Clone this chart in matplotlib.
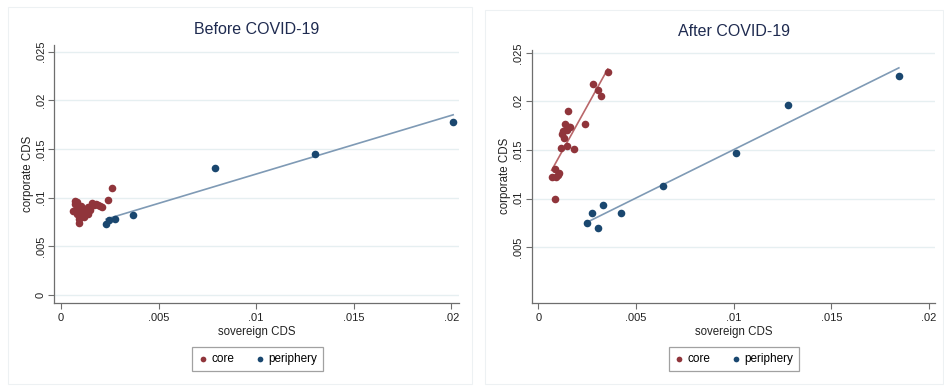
import numpy as np
import matplotlib
matplotlib.use("Agg")
import matplotlib.pyplot as plt
from matplotlib.patches import Rectangle

plt.rcParams['font.family'] = ['Liberation Sans', 'DejaVu Sans']

# Before COVID-19
before_core_x = [0.0006, 0.0007, 0.0007, 0.0008, 0.0008, 0.0008, 0.0009, 0.0009, 0.0009,
                 0.0010, 0.0010, 0.0011, 0.0012, 0.0012, 0.0013, 0.0014, 0.0014, 0.0015,
                 0.0016, 0.0017, 0.0018, 0.0019, 0.0020, 0.0021, 0.0024, 0.0026]
before_core_y = [0.0086, 0.0093, 0.0097, 0.0090, 0.0083, 0.0095, 0.0078, 0.0074, 0.0087,
                 0.0082, 0.0091, 0.0085, 0.0080, 0.0088, 0.0086, 0.0090, 0.0083, 0.0087,
                 0.0094, 0.0092, 0.0093, 0.0092, 0.0091, 0.0090, 0.0098, 0.0110]
before_peri_x = [0.0201, 0.0130, 0.0079, 0.0037, 0.00277, 0.00248, 0.00231]
before_peri_y = [0.0178, 0.0145, 0.0130, 0.0082, 0.0078, 0.0077, 0.00726]

# After COVID-19
after_core_x = [0.00355, 0.0028, 0.00305, 0.00322, 0.00152, 0.00239, 0.00136, 0.00157,
                0.00128, 0.00121, 0.00133, 0.00145, 0.00114, 0.00181, 0.00084, 0.00068,
                0.0009, 0.00107, 0.00099, 0.00087, 0.00162, 0.00145]
after_core_y = [0.0230, 0.02184, 0.0212, 0.02057, 0.01906, 0.01768, 0.0177, 0.01733,
                0.01692, 0.01668, 0.01624, 0.01538, 0.01521, 0.01514, 0.01304, 0.01222,
                0.01222, 0.01263, 0.01246, 0.00998, 0.0174, 0.0171]
after_peri_x = [0.01845, 0.0128, 0.0101, 0.00636, 0.00425, 0.00329, 0.00275, 0.00251, 0.00305]
after_peri_y = [0.02263, 0.0196, 0.0147, 0.0113, 0.00857, 0.0093, 0.0085, 0.00754, 0.00696]

x_ticks = [0, 0.005, 0.01, 0.015, 0.02]
x_labels = ['0', '.005', '.01', '.015', '.02']
y_ticks_before = [0, 0.005, 0.01, 0.015, 0.02, 0.025]
y_labels_before = ['0', '.005', '.01', '.015', '.02', '.025']
y_ticks_after = [0.005, 0.01, 0.015, 0.02, 0.025]
y_labels_after = ['.005', '.01', '.015', '.02', '.025']

core_col = '#90353b'
peri_col = '#1a476f'
core_fit_col = '#b9676a'
peri_fit_col = '#7f9ab5'
grid_col = '#e6eff1'
axis_col = '#6e6e6e'
title_col = '#1f2b50'
text_col = '#222222'

W, H = 945, 387
fig = plt.figure(figsize=(W / 100, H / 100), dpi=100)
fig.patch.set_facecolor('white')

# faint panel frames
for (x0, y0, x1, y1) in [(8, 7, 472, 384), (485, 10, 943, 384)]:
    fig.patches.append(Rectangle((x0 / W, 1 - y1 / H), (x1 - x0) / W, (y1 - y0) / H,
                                 transform=fig.transFigure, fill=False,
                                 edgecolor='#edf1f3', lw=0.8))


def fit_line(ax, x, y, color):
    x = np.asarray(x)
    y = np.asarray(y)
    b, a = np.polyfit(x, y, 1)
    xs = np.array([x.min(), x.max()])
    ax.plot(xs, a + b * xs, color=color, lw=1.2, zorder=2)


def style(ax, yt, yl, xlim, ylim):
    ax.set_xlim(*xlim)
    ax.set_ylim(*ylim)
    ax.set_xticks(x_ticks)
    ax.set_xticklabels(x_labels)
    ax.set_yticks(yt)
    ax.set_yticklabels(yl, rotation=90, va='center')
    for s in ['top', 'right']:
        ax.spines[s].set_visible(False)
    for s in ['left', 'bottom']:
        ax.spines[s].set_color(axis_col)
        ax.spines[s].set_linewidth(0.9)
    ax.tick_params(axis='both', colors=axis_col, labelcolor=text_col,
                   labelsize=8, length=4, width=0.8, pad=3)
    ax.tick_params(axis='y', pad=2)
    ax.grid(axis='y', color=grid_col, lw=1.0)
    ax.set_axisbelow(True)
    ax.set_xlabel('sovereign CDS', fontsize=8.3, color=text_col, labelpad=2)


# Before
ax1 = fig.add_axes([54 / W, 1 - 303 / H, (459 - 54) / W, (303 - 45) / H])
ax1.scatter(before_core_x, before_core_y, s=30, color=core_col, label='core', zorder=3, lw=0)
ax1.scatter(before_peri_x, before_peri_y, s=30, color=peri_col, label='periphery', zorder=3, lw=0)
fit_line(ax1, before_peri_x, before_peri_y, peri_fit_col)
style(ax1, y_ticks_before, y_labels_before, (-0.00036, 0.0204), (-0.00082, 0.02567))

# After
ax2 = fig.add_axes([531.7 / W, 1 - 303 / H, (935 - 531.7) / W, (303 - 50) / H])
ax2.scatter(after_core_x, after_core_y, s=30, color=core_col, label='core', zorder=3, lw=0)
ax2.scatter(after_peri_x, after_peri_y, s=30, color=peri_col, label='periphery', zorder=3, lw=0)
fit_line(ax2, after_core_x, after_core_y, core_fit_col)
fit_line(ax2, after_peri_x, after_peri_y, peri_fit_col)
style(ax2, y_ticks_after, y_labels_after, (-0.00034, 0.0203), (-0.00074, 0.0253))

# titles and y labels placed in pixel positions
for title, tx, ty in [('Before COVID-19', 257, 30), ('After COVID-19', 734, 32)]:
    fig.text(tx / W, 1 - ty / H, title, fontsize=11.5, color=title_col,
             ha='center', va='center')
for lx, ly in [(28, 174), (505, 176)]:
    fig.text(lx / W, 1 - ly / H, 'corporate CDS', fontsize=8.3, color=text_col,
             rotation=90, ha='center', va='center')

for ax, cx in [(ax1, 257.5), (ax2, 734)]:
    leg = ax.legend(loc='center', bbox_to_anchor=(cx / W, 1 - 359 / H),
                    bbox_transform=fig.transFigure, ncol=2, fontsize=8.5,
                    frameon=True, fancybox=False, handletextpad=0.3,
                    columnspacing=1.8, borderpad=0.5, markerscale=0.75,
                    handlelength=0.8)
    leg.get_frame().set_edgecolor('#8a8a8a')
    leg.get_frame().set_linewidth(0.9)

fig.savefig('out.png', dpi=100)
